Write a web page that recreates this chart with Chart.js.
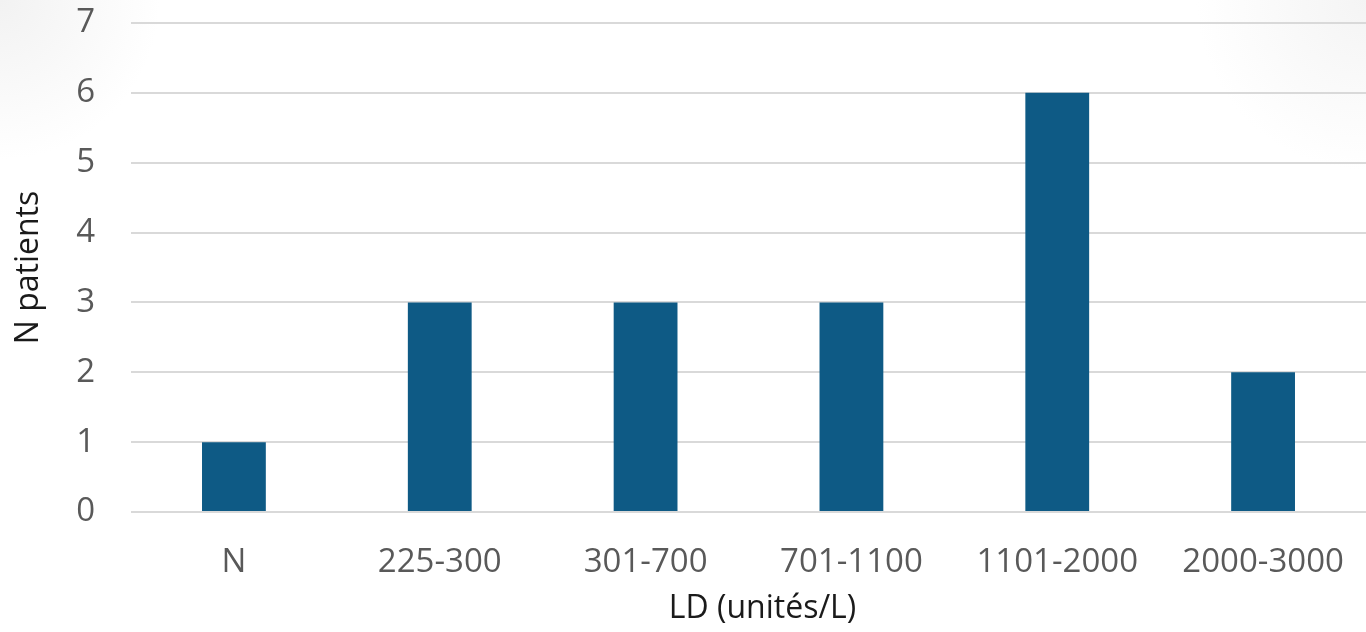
<!DOCTYPE html>
<html>
<head>
<meta charset="utf-8">
<script src="https://cdn.jsdelivr.net/npm/chart.js@4/dist/chart.umd.min.js"></script>
<style>
  html, body { margin: 0; padding: 0; }
  body {
    width: 1366px; height: 632px; overflow: hidden;
    background:
      radial-gradient(circle at 0 0, #f2f2f2 0, rgba(255,255,255,0) 160px),
      radial-gradient(circle at 100% 0, #f4f4f4 0, rgba(255,255,255,0) 170px),
      #ffffff;
  }
  #wrap { position: relative; width: 1366px; height: 632px; }
</style>
</head>
<body>
<div id="wrap"><canvas id="c" width="1366" height="632"></canvas></div>
<script>
// LD ranges and number of patients per range
const categories = ['N', '225-300', '301-700', '701-1100', '1101-2000', '2000-3000'];
const patients = [1, 3, 3, 3, 6, 2];
const yTicks = [0, 1, 2, 3, 4, 5, 6, 7];
const xTitle = 'LD (unités/L)';
const yTitle = 'N patients';

const FONT = '"Open Sans", "Liberation Sans", sans-serif';

// x-axis title, centred a little right of the plot centre under the labels
const xTitlePlugin = {
  id: 'xTitle',
  afterDraw(chart) {
    const ctx = chart.ctx;
    const area = chart.chartArea;
    ctx.save();
    ctx.font = '32px ' + FONT;
    ctx.fillStyle = '#1a1a1a';
    ctx.textAlign = 'center';
    ctx.textBaseline = 'middle';
    ctx.fillText(xTitle, (area.left + area.right) / 2 + 14, chart.height - 23);
    ctx.restore();
  }
};

new Chart(document.getElementById('c'), {
  type: 'bar',
  data: {
    labels: categories,
    datasets: [{
      label: yTitle,
      data: patients,
      backgroundColor: '#0e5a85',
      borderWidth: 0,
      barPercentage: 0.62,
      categoryPercentage: 0.5
    }]
  },
  plugins: [xTitlePlugin],
  options: {
    responsive: false,
    animation: false,
    layout: { padding: { top: 23, right: 0, left: 0, bottom: 0 } },
    plugins: {
      legend: { display: false },
      tooltip: { enabled: false }
    },
    scales: {
      x: {
        grid: { display: false, drawTicks: false },
        border: { display: false },
        ticks: {
          color: '#595959',
          font: { family: FONT, size: 33 },
          padding: 31,
          maxRotation: 0
        },
        title: { display: false },
        afterFit(scale) {
          scale.height = 120;
          scale.paddingLeft = 0;
          scale.paddingRight = 0;
        }
      },
      y: {
        min: 0,
        max: 7,
        afterBuildTicks(scale) { scale.ticks = yTicks.map(v => ({ value: v })); },
        grid: { color: '#d9d9d9', lineWidth: 2, drawTicks: false },
        border: { display: false },
        ticks: {
          color: '#595959',
          font: { family: FONT, size: 33 },
          padding: 36
        },
        title: {
          display: true,
          text: yTitle,
          color: '#1a1a1a',
          font: { family: FONT, size: 32 },
          padding: { top: 10, bottom: 0 }
        },
        afterFit(scale) {
          scale.width = 131;
          scale.paddingTop = 0;
          scale.paddingBottom = 0;
        }
      }
    }
  }
});
</script>
</body>
</html>
